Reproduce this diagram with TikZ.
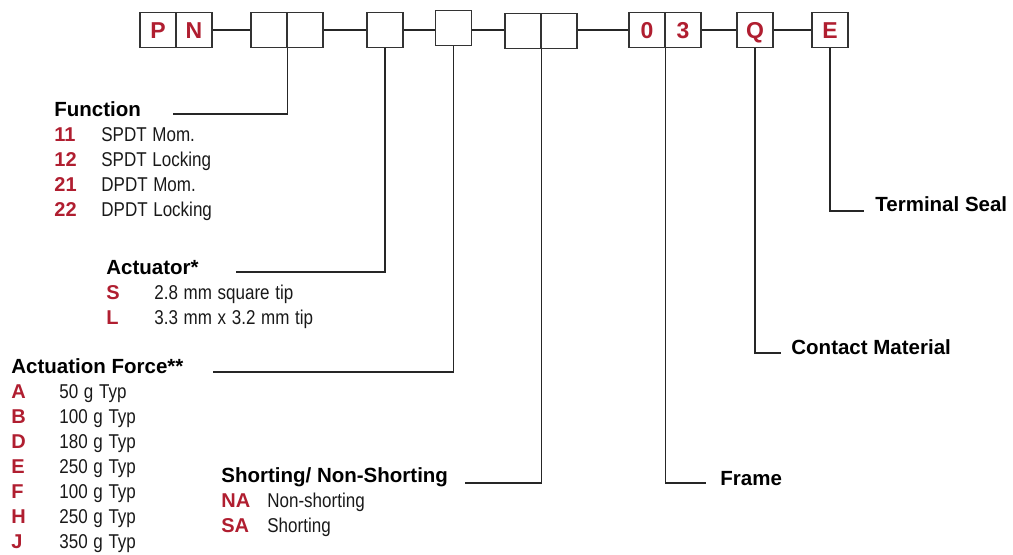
\documentclass[tikz,border=0pt]{standalone}
\usepackage{fontspec}
\setmainfont{Liberation Sans}
\newfontfamily\narrowfont[FakeStretch=0.85,WordSpace=1.2]{Liberation Sans}
\definecolor{pnred}{RGB}{176,30,48}
\tikzset{
  cell/.style={draw=black!80, line width=0.75pt, minimum width=18pt, minimum height=17.5pt,
    inner sep=0pt, text height=8.2pt, text depth=0pt, text=pnred, font=\fontsize{11.5}{12}\selectfont\bfseries},
  lead/.style={draw=black!85, line width=0.7pt},
  head/.style={anchor=base west, inner sep=0pt, font=\fontsize{10.25}{12}\selectfont\bfseries},
  code/.style={anchor=base west, inner sep=0pt, text=pnred, font=\fontsize{10}{12}\selectfont\bfseries},
  item/.style={anchor=base west, inner sep=0pt, text=black!90, font=\fontsize{10}{12}\selectfont\narrowfont},
}
\begin{document}
\begin{tikzpicture}[x=0.5pt,y=-0.5pt]
  \useasboundingbox (0,0) rectangle (1013,555);
  % part number boxes
  \node[cell] (p) at (158,30) {P};
  \node[cell] (n) at (194,30) {N};
  \node[cell] (f1) at (269,30) {};
  \node[cell] (f2) at (305,30) {};
  \node[cell] (act) at (385,30) {};
  \node[cell] (frc) at (453.5,28) {};
  \node[cell] (sh1) at (523,31) {};
  \node[cell] (sh2) at (559,31) {};
  \node[cell] (fr1) at (647,30) {0};
  \node[cell] (fr2) at (683,30) {3};
  \node[cell] (cm) at (755,30) {Q};
  \node[cell] (ts) at (830,30) {E};
  \draw[lead] (n.east) -- (f1.west);
  \draw[lead] (f2.east) -- (act.west);
  \draw[lead] (act.east) -- (frc.west |- act.east);
  \draw[lead] (frc.east |- act.east) -- (sh1.west |- act.east);
  \draw[lead] (sh2.east |- fr1.west) -- (fr1.west);
  \draw[lead] (fr2.east) -- (cm.west);
  \draw[lead] (cm.east) -- (ts.west);
  % leader end points
  \coordinate (fnend) at (173,114);
  \coordinate (acend) at (236,272);
  \coordinate (foend) at (213,372);
  \coordinate (shend) at (465,483);
  \coordinate (frend) at (706,483);
  \coordinate (cmend) at (781,353);
  \coordinate (tsend) at (864,211);
  \draw[lead] (f1.south east) |- (fnend);
  \draw[lead] (act.south) |- (acend);
  \draw[lead] (frc.south) |- (foend);
  \draw[lead] (sh1.south east) |- (shend);
  \draw[lead] (fr1.south east) |- (frend);
  \draw[lead] (cm.south) |- (cmend);
  \draw[lead] (ts.south) |- (tsend);
  % function
  \node[head] (fnhead) at (54,117) {Function};
  \node[code] (fn11) at (54,142) {11};
  \node[item] (fn11t) at (101,142) {SPDT Mom.};
  \node[code] (fn12) at (54,167) {12};
  \node[item] (fn12t) at (101,167) {SPDT Locking};
  \node[code] (fn21) at (54,192) {21};
  \node[item] (fn21t) at (101,192) {DPDT Mom.};
  \node[code] (fn22) at (54,217) {22};
  \node[item] (fn22t) at (101,217) {DPDT Locking};
  % actuator
  \node[head] (achead) at (106,275) {Actuator*};
  \node[code] (acS) at (106,300) {S};
  \node[item] (acSt) at (154,300) {2.8 mm square tip};
  \node[code] (acL) at (106,325) {L};
  \node[item] (acLt) at (154,325) {3.3 mm x 3.2 mm tip};
  % actuation force
  \node[head] (fohead) at (11,374) {Actuation Force**};
  \node[code] (foA) at (11,399) {A};
  \node[item] (foAt) at (59,399) {50 g Typ};
  \node[code] (foB) at (11,424) {B};
  \node[item] (foBt) at (59,424) {100 g Typ};
  \node[code] (foD) at (11,449) {D};
  \node[item] (foDt) at (59,449) {180 g Typ};
  \node[code] (foE) at (11,474) {E};
  \node[item] (foEt) at (59,474) {250 g Typ};
  \node[code] (foF) at (11,499) {F};
  \node[item] (foFt) at (59,499) {100 g Typ};
  \node[code] (foH) at (11,524) {H};
  \node[item] (foHt) at (59,524) {250 g Typ};
  \node[code] (foJ) at (11,549) {J};
  \node[item] (foJt) at (59,549) {350 g Typ};
  % shorting
  \node[head] (shhead) at (221,483) {Shorting/ Non-Shorting};
  \node[code] (shNA) at (221,508) {NA};
  \node[item] (shNAt) at (267,508) {Non-shorting};
  \node[code] (shSA) at (221,533) {SA};
  \node[item] (shSAt) at (267,533) {Shorting};
  % right hand labels
  \node[head] (frhead) at (720,486) {Frame};
  \node[head] (cmhead) at (791,355) {Contact Material};
  \node[head] (tshead) at (875,212) {Terminal Seal};
\end{tikzpicture}
\end{document}
